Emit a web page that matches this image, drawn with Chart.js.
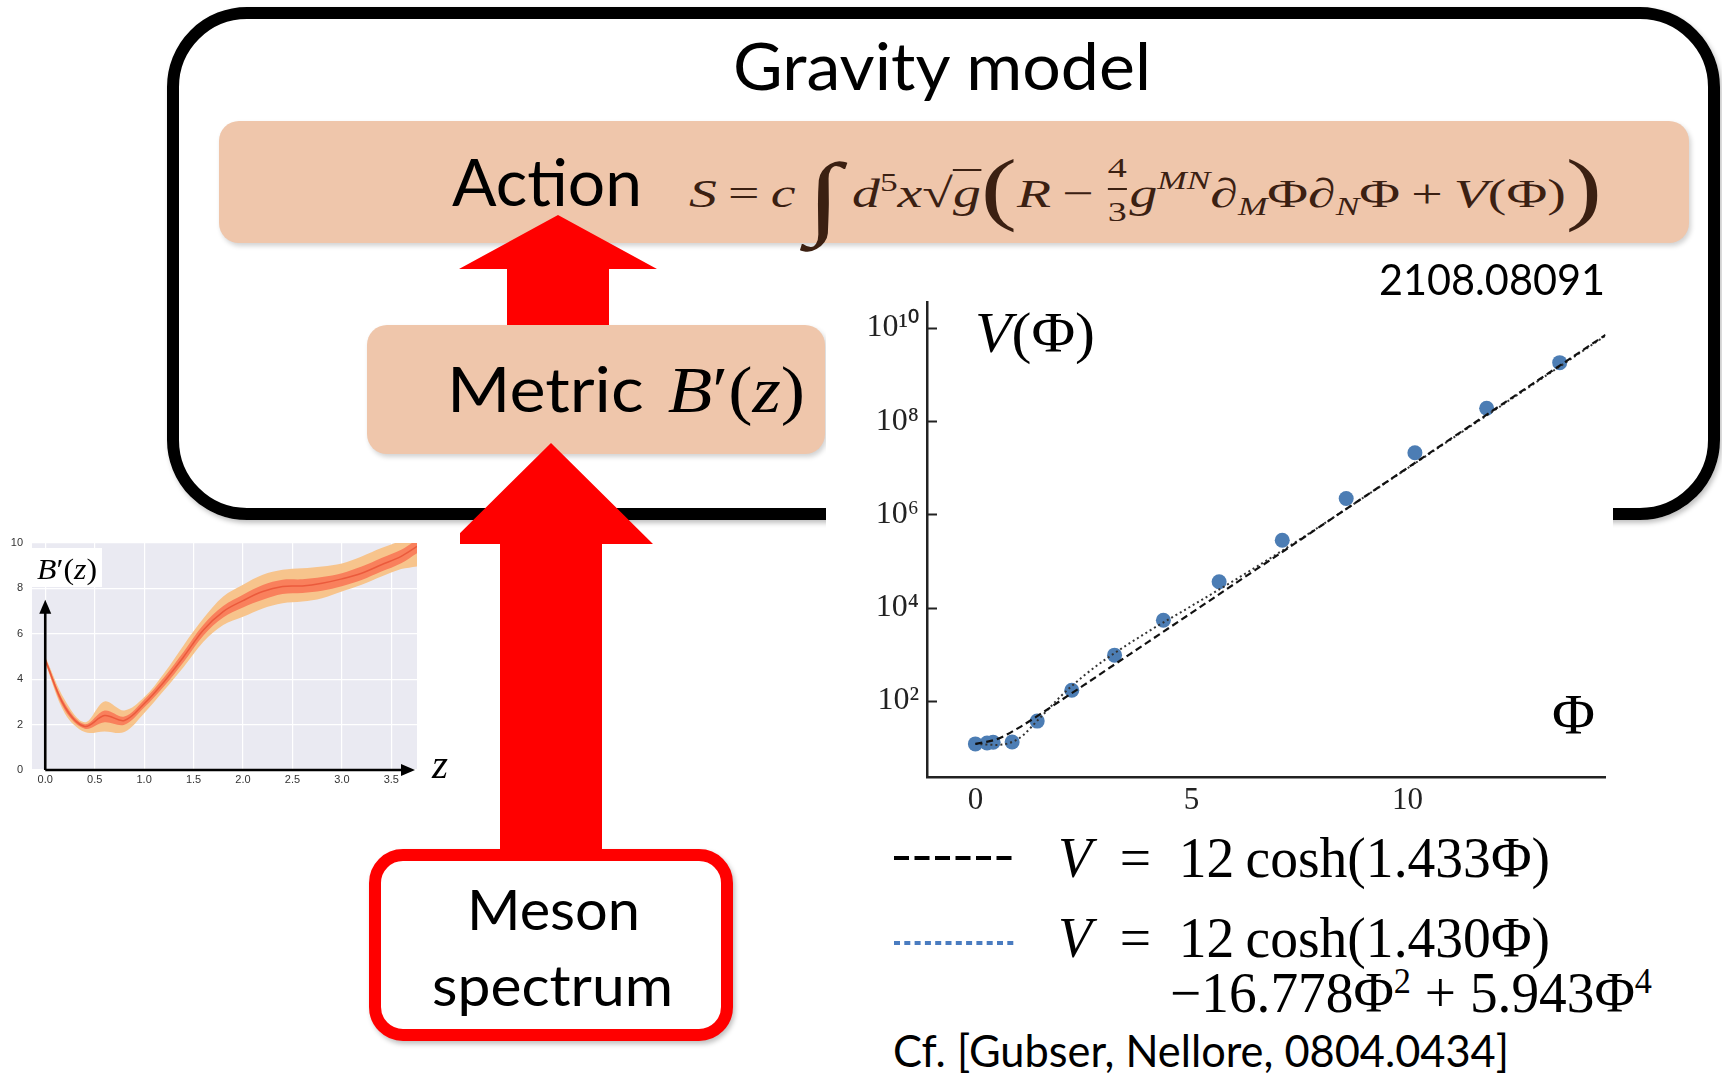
<!DOCTYPE html>
<html><head><meta charset="utf-8">
<script src="https://cdn.jsdelivr.net/npm/chart.js@4.4.1/dist/chart.umd.min.js"></script>
<style>
html,body{margin:0;padding:0;}
body{width:1722px;height:1078px;position:relative;overflow:hidden;background:#fff;}
.abs{position:absolute;}
.peach{position:absolute;background:#EFC6AB;box-shadow:2px 3px 5px rgba(0,0,0,0.18);}
.t{position:absolute;white-space:nowrap;line-height:1.25;color:#000;left:0;top:0;}
.sans{font-family:Lato,'Open Sans',sans-serif;}
.serif{font-family:'Liberation Serif','DejaVu Serif',serif;}
.bl{display:inline-block;width:0;height:0;vertical-align:baseline;}
sup.p{font-size:0.62em;vertical-align:0.55em;line-height:0;}
#tForm .int{font-size:92px;vertical-align:-20px;line-height:0;display:inline-block;}
#tForm .bp{font-size:80px;line-height:0;vertical-align:-8px;}
#tForm .frac{display:inline-flex;flex-direction:column;align-items:center;font-size:28px;line-height:1;vertical-align:30px;margin:0 2px;}
#tForm .num{padding-bottom:6px;}
#tForm .den{border-top:2px solid #3b2012;padding-top:8px;}
#tForm .ov{border-top:2px solid #3b2012;padding-top:2px;line-height:1;display:inline-block;}
#tForm .mn{font-size:26px;vertical-align:18px;line-height:0;}
#tForm .s5{font-size:26px;vertical-align:16px;line-height:0;}
#tForm sub{font-size:26px;vertical-align:-8px;line-height:0;}
</style></head>
<body>
<div class="abs" style="left:167px;top:7px;width:1553px;height:513px;border:12px solid #000;border-radius:80px;box-sizing:border-box;box-shadow:2px 3px 5px rgba(0,0,0,0.25);"></div>
<div class="peach" style="left:219px;top:121px;width:1470px;height:122px;border-radius:20px;"></div>
<div class="peach" style="left:367px;top:325px;width:458px;height:129px;border-radius:20px;"></div>
<div class="abs" style="left:369px;top:849px;width:364px;height:192px;border:12px solid #f00;border-radius:34px;box-sizing:border-box;background:#fff;box-shadow:2px 3px 5px rgba(0,0,0,0.25);"></div>
<svg class="abs" style="left:0;top:0;" width="1722" height="1078">
 <polygon fill="#f00" points="507,325 507,269 459,269 558,215 657,269 609,269 609,325"/>
 <polygon fill="#f00" points="500,851 500,544 449,544 551,443 653,544 602,544 602,851"/>
 <line x1="894" y1="858" x2="1017" y2="858" stroke="#000" stroke-width="4" stroke-dasharray="15 5.5"/>
 <line x1="894" y1="943" x2="1017" y2="943" stroke="#4A7CC0" stroke-width="4" stroke-dasharray="6 4.3"/>
</svg>
<div class="abs" style="left:826px;top:290px;width:787px;height:525px;background:#fff;"><canvas id="main" width="787" height="525"></canvas></div>
<div class="abs" style="left:0;top:530px;width:460px;height:260px;background:#fff;"><canvas id="inset" width="460" height="260"></canvas></div>
<div class="abs" style="left:32px;top:548px;width:70px;height:39px;background:#fff;"></div>

<div id="tGrav" class="t sans" style="font-size:65px">Gravity model</div>
<div id="tAction" class="t sans" style="font-size:66px">Action</div>
<div id="tForm" class="t serif" style="font-size:41px;color:#3b2012"><i>S</i>&thinsp;=&thinsp;<i>c</i>&thinsp;<span class="int">∫</span>&thinsp;<i>d</i><sup class="s5">5</sup><i>x</i>√<span class="ov"><i>g</i></span><span class="bp">(</span><i>R</i>&thinsp;−&thinsp;<span class="frac"><span class="num">4</span><span class="den">3</span></span><i>g</i><sup class="mn"><i>MN</i></sup>∂<sub><i>M</i></sub>Φ∂<sub><i>N</i></sub>Φ&thinsp;+&thinsp;<i>V</i>(Φ)<span class="bp">)</span></div>
<div id="tMetric" class="t"><span class="sans" style="font-size:62px">Metric</span><span class="serif" style="font-size:66px;margin-left:22px"><i>B</i>′(<i>z</i>)</span></div>
<div id="tArx" class="t sans" style="font-size:42px">2108.08091</div>
<div id="tMeson" class="t sans" style="font-size:56px">Meson</div>
<div id="tSpec" class="t sans" style="font-size:56px">spectrum</div>
<div id="tL1" class="t serif" style="font-size:57px"><i>V</i>&ensp;=&ensp;12&thinsp;cosh(1.433Φ)</div>
<div id="tL2" class="t serif" style="font-size:57px"><i>V</i>&ensp;=&ensp;12&thinsp;cosh(1.430Φ)</div>
<div id="tL3" class="t serif" style="font-size:57px">−16.778Φ<sup class="p">2</sup> + 5.943Φ<sup class="p">4</sup></div>
<div id="tCf" class="t sans" style="font-size:44px">Cf. [Gubser, Nellore, 0804.0434]</div>
<div id="tV" class="t serif" style="font-size:56px"><i>V</i>(Φ)</div>
<div id="tPhi" class="t serif" style="font-size:58px">Φ</div>
<div id="tB" class="t serif" style="font-size:30px"><i>B</i>′(<i>z</i>)</div>
<div id="tz" class="t serif" style="font-size:42px"><i>z</i></div>

<script>
// ---- main chart data: V(Phi) ----
const phiPoints = [0, 0.27, 0.41, 0.85, 1.43, 2.23, 3.22, 4.35, 5.64, 7.10, 8.58, 10.17, 11.83, 13.52];
const vPoints   = [12, 12.5, 13, 13.2, 37, 170, 960, 5400, 36000, 280000, 2200000, 21000000, 190000000, 1800000000];
const curvePhi  = [0, 0.5, 1, 1.5, 2, 2.5, 3, 4, 5, 6, 7, 8, 10, 12, 14.58];
const dashedV   = [12, 15.2, 26.5, 52, 106, 215, 442, 1850, 7760, 32600, 135600, 570000, 10000000, 176000000, 7100000000];
const dottedV   = [12, 11.4, 15.6, 44, 133, 341, 768, 3080, 10900, 39000, 146300, 580000, 9800000, 169000000, 6800000000];
const yTickValues = [1e2, 1e4, 1e6, 1e8, 1e10];
const yTickLabels = ['10²', '10⁴', '10⁶', '10⁸', '10¹⁰'];
const xTickValues = [0, 5, 10];

// ---- inset data: B'(z) ----
const zGrid    = [0, 0.2, 0.4, 0.6, 0.8, 1.0, 1.2, 1.4, 1.6, 1.8, 2.0, 2.2, 2.4, 2.6, 2.8, 3.0, 3.2, 3.4, 3.6, 3.76];
const bMid     = [4.85, 2.77, 1.92, 2.40, 2.18, 2.92, 3.88, 4.99, 6.17, 6.98, 7.46, 7.86, 8.08, 8.11, 8.23, 8.42, 8.67, 9.04, 9.41, 9.85];
const bInnerLo = [4.75, 2.62, 1.82, 2.10, 1.99, 2.75, 3.68, 4.76, 5.93, 6.72, 7.16, 7.50, 7.75, 7.80, 7.90, 8.10, 8.37, 8.74, 9.11, 9.55];
const bInnerHi = [4.95, 2.92, 2.02, 2.62, 2.36, 3.10, 4.08, 5.21, 6.40, 7.22, 7.72, 8.15, 8.38, 8.40, 8.50, 8.67, 8.96, 9.34, 9.70, 10.15];
const bOuterLo = [4.70, 2.48, 1.67, 1.70, 1.67, 2.50, 3.50, 4.54, 5.65, 6.39, 6.75, 7.12, 7.35, 7.42, 7.57, 7.86, 8.16, 8.52, 8.85, 8.97];
const bOuterHi = [5.00, 3.07, 2.10, 3.02, 2.62, 3.20, 4.25, 5.50, 6.68, 7.64, 8.16, 8.60, 8.82, 8.89, 8.97, 9.10, 9.41, 9.78, 10.10, 10.40];
const insetXTicks = [0, 0.5, 1.0, 1.5, 2.0, 2.5, 3.0, 3.5];
const insetYTicks = [0, 2, 4, 6, 8, 10];

const pts = (xs, ys) => xs.map((x, i) => ({x: x, y: ys[i]}));
const noPadV = s => { s.paddingTop = 0; s.paddingBottom = 0; };
const noPadH = s => { s.paddingLeft = 0; s.paddingRight = 0; };

new Chart(document.getElementById('main'), {
  type: 'scatter',
  data: { datasets: [
    {type: 'line', label: 'dashed', data: pts(curvePhi, dashedV), borderColor: '#111', borderWidth: 2.2, borderDash: [7, 4], pointRadius: 0, fill: false, cubicInterpolationMode: 'monotone'},
    {type: 'line', label: 'dotted', data: pts(curvePhi, dottedV), borderColor: '#333', borderWidth: 2, borderDash: [2, 3], pointRadius: 0, fill: false, cubicInterpolationMode: 'monotone'},
    {label: 'V', data: pts(phiPoints, vPoints), backgroundColor: '#4C7DB4', borderWidth: 0, pointRadius: 7.5, pointHoverRadius: 7.5}
  ]},
  options: {
    responsive: false, animation: false, events: [],
    layout: {padding: {top: 12, right: 0, left: 0, bottom: 0}},
    plugins: {legend: {display: false}, tooltip: {enabled: false}},
    scales: {
      x: {type: 'linear', min: -1.12, max: 14.58,
          grid: {display: false, drawTicks: false},
          border: {display: true, color: '#222', width: 2.5},
          afterBuildTicks: s => { s.ticks = xTickValues.map(v => ({value: v})); },
          afterFit: s => { s.height = 38; noPadH(s); },
          ticks: {font: {family: 'Liberation Serif', size: 31}, color: '#222', padding: 5, maxRotation: 0, callback: v => String(v)}},
      y: {type: 'logarithmic', min: 2.34, max: 3.6e10,
          grid: {display: false, drawTicks: false},
          border: {display: true, color: '#222', width: 2.5},
          afterBuildTicks: s => { s.ticks = yTickValues.map(v => ({value: v})); },
          afterFit: s => { s.width = 101; noPadV(s); },
          ticks: {font: {family: 'Liberation Serif', size: 32}, color: '#222', padding: 8,
                  callback: v => { const i = yTickValues.indexOf(v); return i >= 0 ? yTickLabels[i] : ''; }}}
    }
  },
  plugins: [{id: 'inTicks', afterDraw(c) {
    const ctx = c.ctx, a = c.chartArea, y = c.scales.y;
    ctx.save(); ctx.strokeStyle = '#222'; ctx.lineWidth = 2;
    yTickValues.forEach(v => { const p = Math.round(y.getPixelForValue(v)) + 0.5;
      ctx.beginPath(); ctx.moveTo(a.left, p); ctx.lineTo(a.left + 10, p); ctx.stroke(); });
    ctx.restore();
  }}]
});

const band = (d, fill, color) => ({data: d, borderColor: 'rgba(0,0,0,0)', borderWidth: 0, backgroundColor: color || 'rgba(0,0,0,0)', pointRadius: 0, tension: 0.35, fill: fill});
new Chart(document.getElementById('inset'), {
  type: 'line',
  data: { datasets: [
    {data: pts(zGrid, bMid), borderColor: '#EB5A3C', borderWidth: 1.5, pointRadius: 0, tension: 0.35, fill: false},
    band(pts(zGrid, bInnerHi), '+1', '#F9805C'),
    band(pts(zGrid, bInnerLo), false),
    band(pts(zGrid, bOuterHi), '+1', '#F7C48C'),
    band(pts(zGrid, bOuterLo), false)
  ]},
  options: {
    responsive: false, animation: false, events: [],
    layout: {padding: {top: 13, right: 43, left: 0, bottom: 0}},
    plugins: {legend: {display: false}, tooltip: {enabled: false}},
    scales: {
      x: {type: 'linear', min: -0.134, max: 3.76,
          grid: {color: '#fff', lineWidth: 1.2, drawTicks: false}, border: {display: false},
          afterBuildTicks: s => { s.ticks = insetXTicks.map(v => ({value: v})); },
          afterFit: s => { s.height = 20; noPadH(s); },
          ticks: {font: {family: 'Liberation Sans', size: 11}, color: '#333', padding: 3, maxRotation: 0, callback: v => v.toFixed(1)}},
      y: {type: 'linear', min: 0, max: 10,
          grid: {color: '#fff', lineWidth: 1.2, drawTicks: false}, border: {display: false},
          afterBuildTicks: s => { s.ticks = insetYTicks.map(v => ({value: v})); },
          afterFit: s => { s.width = 32; noPadV(s); },
          ticks: {font: {family: 'Liberation Sans', size: 11}, color: '#333', padding: 9, callback: v => String(v)}}
    }
  },
  plugins: [{id: 'bg', beforeDraw(c) {
      const a = c.chartArea, ctx = c.ctx; ctx.save(); ctx.fillStyle = '#EAEAF2';
      ctx.fillRect(a.left, a.top, a.right - a.left, a.bottom - a.top); ctx.restore(); },
    afterDatasetsDraw(c) {
      const ctx = c.ctx, xs = c.scales.x, ys = c.scales.y;
      const x0 = xs.getPixelForValue(0), y0 = ys.getPixelForValue(0);
      const yTop = ys.getPixelForValue(7.5), xEnd = xs.getPixelForValue(3.74);
      ctx.save(); ctx.strokeStyle = '#000'; ctx.fillStyle = '#000'; ctx.lineWidth = 2.6;
      ctx.beginPath(); ctx.moveTo(x0, y0); ctx.lineTo(x0, yTop + 10); ctx.stroke();
      ctx.beginPath(); ctx.moveTo(x0, yTop); ctx.lineTo(x0 - 6, yTop + 14); ctx.lineTo(x0 + 6, yTop + 14); ctx.closePath(); ctx.fill();
      ctx.beginPath(); ctx.moveTo(x0, y0); ctx.lineTo(xEnd - 10, y0); ctx.stroke();
      ctx.beginPath(); ctx.moveTo(xEnd, y0); ctx.lineTo(xEnd - 14, y0 - 6); ctx.lineTo(xEnd - 14, y0 + 6); ctx.closePath(); ctx.fill();
      ctx.restore();
    }}]
});

function place(id, x0, x1, base) {
  const el = document.getElementById(id);
  let mk = el.querySelector(':scope > .bl');
  if (!mk) { mk = document.createElement('span'); mk.className = 'bl'; el.appendChild(mk); }
  el.style.transform = 'none'; el.style.left = '0px'; el.style.top = '0px';
  const r = el.getBoundingClientRect(), m = mk.getBoundingClientRect();
  const s = (x1 - x0) / r.width;
  el.style.transformOrigin = '0 0';
  el.style.transform = 'scaleX(' + s + ')';
  el.style.left = x0 + 'px';
  el.style.top = (base - (m.top - r.top)) + 'px';
}
function placeAll() {
  place('tGrav', 733, 1151, 90);
  place('tAction', 452, 642, 206);
  place('tForm', 689, 1602, 207);
  place('tMetric', 447, 805, 412);
  place('tArx', 1379, 1605, 295);
  place('tMeson', 467, 640, 930);
  place('tSpec', 432, 673, 1006);
  place('tL1', 1058, 1550, 877);
  place('tL2', 1058, 1550, 957);
  place('tL3', 1170, 1652, 1012);
  place('tCf', 893, 1509, 1067);
  place('tV', 975, 1095, 352);
  place('tPhi', 1552, 1595, 734);
  place('tB', 37, 97, 579);
  place('tz', 432, 448, 778);
}
placeAll();
if (document.fonts && document.fonts.ready) document.fonts.ready.then(placeAll);
</script>
</body></html>
